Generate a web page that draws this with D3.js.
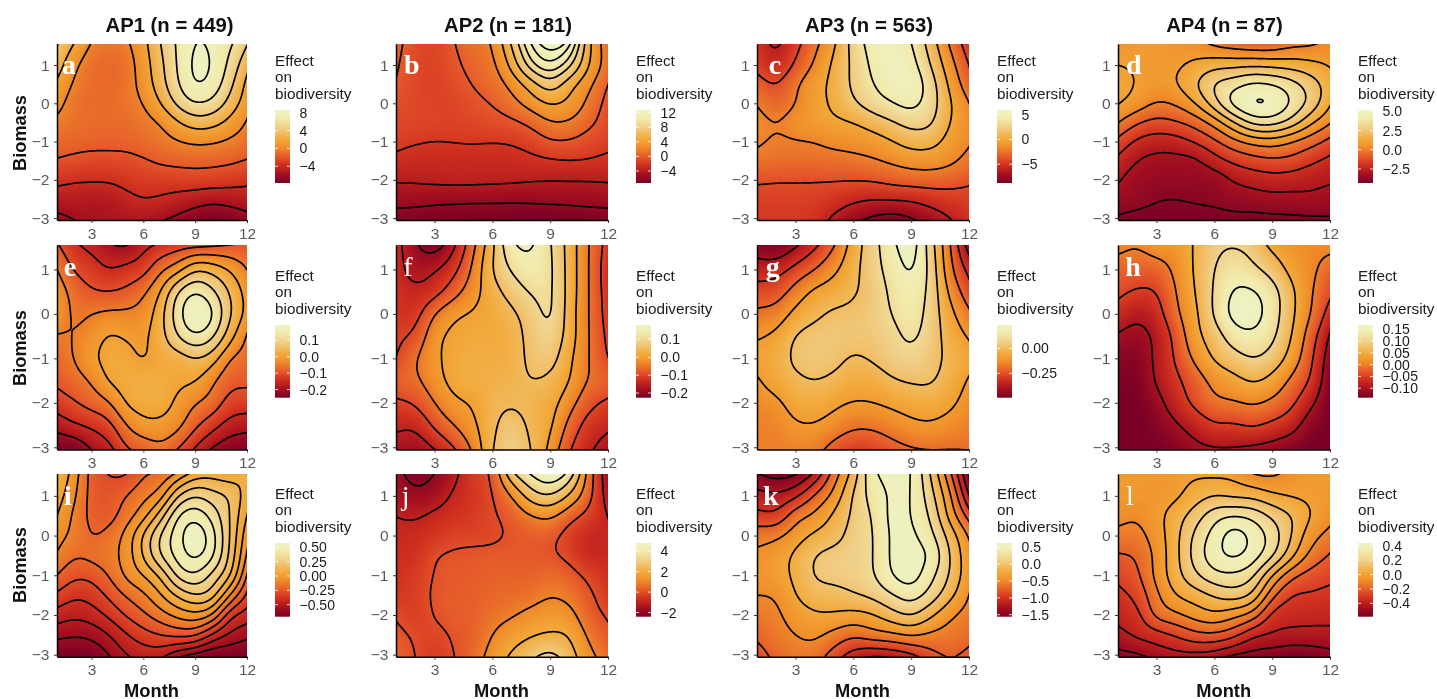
<!DOCTYPE html>
<html><head><meta charset="utf-8">
<script src="https://cdn.jsdelivr.net/npm/d3@7"></script>
<style>
html,body{margin:0;padding:0;background:#fff;width:1437px;height:699px;overflow:hidden}
#wrap{position:relative;width:1437px;height:699px}
canvas{position:absolute}
svg{position:absolute;left:0;top:0}
text{font-family:"Liberation Sans",Arial,sans-serif}
</style></head><body><div id="wrap"></div>
<script>
// Rows run biomass 1.5 -> -3 in steps of 0.5, columns are months 1..12.
const months=[1,2,3,4,5,6,7,8,9,10,11,12];
const biomass=[1.5,1,.5,0,-.5,-1,-1.5,-2,-2.5,-3];
const titles=["AP1 (n = 449)","AP2 (n = 181)","AP3 (n = 563)","AP4 (n = 87)"];
const letters=["a","b","c","d","e","f","g","h","i","j","k","l"];
const gridA=[
[4,1.8,-.3,-.8,-.4,1.3,4,6.3,8.2,7.7,6.3,4],
[3,.4,-1,-1.2,-.9,1,3.5,6.2,8.5,7.9,5.5,2.6],
[1.6,-.3,-1.1,-1.2,-.8,.7,3.2,5.8,8.1,7.3,4.6,1.5],
[.6,-.8,-1.1,-1.1,-.7,0,2,4.5,6,5.5,3.3,.9],
[-.4,-.9,-1.1,-1.15,-1.1,-.6,.1,1.8,3,2.7,1.4,-.2],
[-1.2,-1.4,-1.5,-1.5,-1.5,-1.1,-.7,-.1,.3,.2,-.3,-.9],
[-2.1,-2.4,-2.6,-2.6,-2.5,-2.2,-1.7,-1.5,-1.4,-1.5,-1.7,-2.1],
[-3.5,-3.8,-3.8,-3.8,-3.4,-3.1,-3.1,-3,-2.9,-3,-3.2,-3.5],
[-5,-5,-5.2,-5.1,-4.5,-4,-4.2,-4.6,-5,-5.4,-5.2,-5],
[-6.4,-5.9,-5.6,-5.5,-5.4,-5.2,-5.7,-6.3,-7.2,-7.7,-7.2,-6.5]];
const gridB=[
[.5,-.9,-1.2,-.1,1,2,6,11,12.7,11.4,4.3,.9],
[.2,-1,-1.3,-.4,.6,1.5,4.6,9,10.8,8.5,4,1],
[-.1,-1,-1.3,-.8,.1,.9,2.6,5,7.2,4.8,2.5,0],
[-.7,-1,-1.3,-1.2,-.5,.1,1.3,2.9,4.2,3.5,1.5,-.7],
[-1.1,-1.1,-1.2,-1.3,-1.1,-.8,-.4,.5,1.9,1.8,.5,-1],
[-1.5,-1.8,-2,-1.9,-1.8,-1.9,-1.8,-1.2,-.2,-.2,-.9,-1.4],
[-2.5,-2.9,-3,-3,-3,-3,-2.8,-2.5,-2.2,-2,-2.1,-2.5],
[-3.8,-3.7,-3.5,-3.4,-3.4,-3.5,-3.6,-3.8,-3.9,-3.9,-3.9,-3.8],
[-5.2,-5.3,-5.5,-5.6,-5.66,-5.66,-5.67,-5.6,-5.5,-5.4,-5.3,-5.2],
[-6.9,-6.9,-7,-7,-7.1,-7.1,-7.2,-7.3,-7.3,-7.2,-7,-6.9]];
const gridC=[
[-5,-6.3,-4.5,-2.4,-.2,2.7,4.8,5.5,4.2,1.2,-2.1,-5],
[-4.6,-5.5,-3.7,-1.7,.4,2.4,4.4,5.6,4.8,2,-1.2,-4],
[-3.2,-4.1,-2.3,-.7,.5,2.4,3.9,5.2,5.4,3,-.4,-3.2],
[-2.1,-3,-2,-.6,.3,1.7,3,3.9,4.6,3,.2,-1.9],
[-1.5,-2,-1.3,-.7,-.3,0,.9,1.8,2.7,2.3,0,-1.6],
[-1.8,-2.2,-2.1,-2,-1.5,-1.3,-.9,-.1,.8,.7,-.7,-1.8],
[-2.5,-2.7,-2.8,-2.7,-2.7,-2.5,-2.2,-1.7,-1.2,-1.1,-1.6,-2.6],
[-3.8,-3.9,-3.9,-3.9,-3.9,-3.9,-3.8,-3.4,-3.1,-3,-3.2,-3.7],
[-4.5,-4.5,-4.5,-4.6,-5,-5.6,-5.9,-5.8,-5.7,-5.2,-4.8,-4.6],
[-4.8,-4.8,-4.8,-5,-6.3,-7.4,-8.2,-8.7,-8,-7,-6,-5]];
const gridD=[
[.6,.8,.8,.7,.5,0,-.3,-.5,-.5,-.1,0,.4],
[1,.9,.8,.85,1.2,1.6,1.7,1.8,1.7,1.55,1.3,.9],
[1.3,.95,.8,.95,1.9,3.1,3.6,4.2,4,3.4,2.5,1.5],
[1.1,.6,-.1,.15,1,2.6,4.4,5.15,5.05,3.9,2.7,1.15],
[.05,-.9,-1.3,-1.1,-.6,.4,1.9,3.3,3.4,2.6,1.2,.1],
[-1.3,-2.2,-2.5,-2.4,-1.9,-1.2,-.3,.3,.5,0,-.6,-1.3],
[-2.25,-3,-3.3,-3.3,-3.2,-2.4,-1.8,-1.4,-1.2,-1.3,-1.8,-2.25],
[-2.9,-3.5,-3.6,-3.6,-3.6,-3.6,-2.9,-2.6,-2.4,-2.5,-2.7,-2.85],
[-3.45,-3.65,-3.95,-4,-3.9,-3.8,-3.6,-3.45,-3.3,-3.3,-3.2,-3.45],
[-4.1,-4.3,-4.3,-4.3,-4.3,-4.3,-4.2,-4.25,-4.2,-4.15,-4.1,-4.05]];
const gridE=[
[-.09,-.14,-.16,-.19,-.2,-.16,-.135,-.115,-.1,-.095,-.09,-.09],
[-.05,-.105,-.125,-.15,-.135,-.12,-.06,-.02,.045,.03,-.005,-.05],
[-.02,-.07,-.095,-.1,-.09,-.06,0,.1,.15,.11,.045,-.02],
[-.015,-.06,-.05,-.04,-.04,-.03,.03,.13,.2,.155,.055,-.015],
[-.055,-.05,-.025,.005,-.005,-.01,.03,.1,.145,.11,.02,-.055],
[-.07,-.05,-.01,.015,.015,-.005,.02,.025,.05,.025,-.05,-.07],
[-.09,-.07,-.045,.005,.02,.025,.025,.01,.005,-.04,-.085,-.09],
[-.125,-.105,-.08,-.055,.005,.02,.02,-.01,-.047,-.07,-.12,-.125],
[-.18,-.155,-.14,-.115,-.05,-.015,-.012,-.035,-.09,-.13,-.17,-.18],
[-.24,-.24,-.19,-.165,-.1,-.08,-.06,-.095,-.15,-.2,-.23,-.24]];
const gridF=[
[-.13,-.19,-.22,-.155,-.06,.04,.14,.155,.105,.03,-.05,-.12],
[-.13,-.17,-.155,-.115,-.04,.05,.105,.135,.11,.03,-.05,-.13],
[-.125,-.14,-.12,-.07,-.02,.03,.07,.105,.11,.03,-.05,-.125],
[-.12,-.12,-.05,-.01,.005,.02,.04,.075,.11,.025,-.05,-.12],
[-.11,-.09,-.015,.01,.02,.02,.03,.065,.09,.025,-.05,-.11],
[-.1,-.055,-.01,.015,.025,.025,.03,.06,.07,.01,-.05,-.1],
[-.07,-.06,-.02,.015,.025,.03,.035,.05,.04,0,-.055,-.07],
[-.11,-.095,-.05,-.01,.005,.035,.045,.035,.02,-.03,-.085,-.11],
[-.14,-.14,-.09,-.05,-.01,.04,.07,.04,.01,-.065,-.12,-.14],
[-.17,-.18,-.145,-.1,-.04,.05,.08,.05,-.01,-.095,-.14,-.17]];
const gridG=[
[-.45,-.48,-.4,-.31,-.2,-.05,.06,.17,.25,.05,-.19,-.44],
[-.35,-.34,-.27,-.2,-.12,-.03,.06,.14,.215,.07,-.17,-.33],
[-.26,-.25,-.16,-.08,-.05,-.01,.04,.12,.17,.07,-.12,-.26],
[-.18,-.16,-.07,-.02,.015,.02,.05,.1,.15,.06,-.07,-.18],
[-.11,-.08,.005,.03,.04,.03,.04,.07,.12,.05,-.04,-.11],
[-.07,-.05,.02,.04,.025,-.01,.01,.05,.07,.03,-.02,-.07],
[-.11,-.06,-.02,0,-.02,-.05,-.05,-.01,.01,.01,-.04,-.11],
[-.14,-.12,-.06,-.05,-.08,-.105,-.1,-.08,-.06,-.05,-.08,-.14],
[-.16,-.15,-.11,-.105,-.14,-.18,-.18,-.15,-.12,-.11,-.135,-.16],
[-.16,-.16,-.15,-.16,-.23,-.28,-.27,-.23,-.2,-.19,-.195,-.195]];
const gridH=[
[.01,0,.02,.02,.055,.09,.1,.085,.04,.02,.01,.01],
[-.02,-.025,-.02,.01,.055,.1,.125,.11,.08,.035,.01,-.02],
[-.04,-.055,-.05,0,.05,.105,.155,.155,.12,.06,.005,-.04],
[-.07,-.09,-.07,-.01,.04,.105,.165,.17,.125,.06,0,-.07],
[-.105,-.115,-.09,-.035,.035,.075,.125,.14,.11,.05,-.025,-.105],
[-.125,-.13,-.09,-.045,.01,.055,.08,.1,.08,.03,-.04,-.125],
[-.135,-.135,-.095,-.06,-.025,.015,.035,.055,.035,-.01,-.055,-.135],
[-.14,-.14,-.115,-.075,-.04,-.01,-.005,.005,-.01,-.04,-.09,-.14],
[-.14,-.14,-.13,-.105,-.08,-.055,-.055,-.045,-.06,-.08,-.125,-.14],
[-.14,-.14,-.14,-.13,-.11,-.1,-.1,-.105,-.115,-.13,-.14,-.14]];
const gridI=[
[.1,-.05,-.24,-.3,-.3,-.2,-.17,-.05,.07,.08,.05,.1],
[.05,-.08,-.24,-.26,-.2,-.13,-.05,.2,.3,.24,.19,.05],
[0,-.12,-.23,-.24,-.15,-.04,.15,.4,.47,.36,.2,0],
[-.06,-.13,-.205,-.17,-.07,.11,.31,.46,.58,.44,.2,-.06],
[-.11,-.19,-.17,-.14,-.06,.11,.3,.44,.53,.42,.18,-.11],
[-.2,-.28,-.27,-.195,-.08,0,.12,.33,.39,.27,.12,-.2],
[-.32,-.38,-.36,-.28,-.19,-.12,-.01,.12,.2,.15,-.1,-.32],
[-.445,-.48,-.45,-.38,-.29,-.22,-.14,-.07,-.03,-.1,-.37,-.445],
[-.57,-.585,-.57,-.5,-.41,-.34,-.3,-.27,-.28,-.42,-.52,-.57],
[-.7,-.72,-.69,-.6,-.5,-.46,-.46,-.56,-.62,-.68,-.68,-.7]];
const gridJ=[
[-1.6,-2.35,-1.95,-1.2,-.35,.05,2.6,3.9,4.7,3.5,.5,-1.6],
[-1.4,-1.75,-1.5,-.85,-.5,-.05,1,2.5,2.95,1.85,.3,-1.4],
[-1,-1.1,-.8,-.6,-.4,-.1,.3,.95,1.2,.35,-.3,-1],
[-.8,-.75,-.5,-.25,-.2,-.15,.1,.25,.25,-.35,-.8,-.9],
[-.7,-.6,-.05,.1,.15,.2,.25,.2,.1,-.2,-.8,-.8],
[-.6,-.4,.05,.2,.25,.35,.35,.35,.55,.3,-.2,-.6],
[-.45,-.3,.1,.25,.3,.45,.55,.65,.95,.75,.15,-.4],
[-.1,-.35,.05,.25,.35,.65,.9,1.25,1.5,1.3,.35,-.1],
[.2,-.1,-.2,.1,.35,1,1.55,1.9,2.1,1.95,.8,.2],
[.4,0,-.4,0,.5,1.35,2.1,2.7,3.2,2.4,1.25,.5]];
const gridK=[
[-1.45,-1.56,-1.48,-1.15,-.6,-.13,.45,.56,.52,0,-.65,-1.5],
[-1.15,-1.2,-1.05,-.72,-.42,.03,.35,.54,.51,.1,-.44,-1.25],
[-.93,-.95,-.6,-.45,-.2,.05,.27,.57,.5,.22,-.33,-.85],
[-.6,-.55,-.38,-.2,-.1,.1,.23,.55,.55,.33,-.1,-.52],
[-.45,-.38,-.2,0,.08,.12,.23,.55,.6,.47,0,-.43],
[-.42,-.35,-.2,.02,.07,.1,.22,.5,.62,.33,-.02,-.42],
[-.5,-.48,-.25,-.12,-.09,-.02,.06,.23,.36,.15,-.17,-.5],
[-.6,-.55,-.38,-.28,-.28,-.33,-.27,-.1,.02,-.2,-.45,-.6],
[-.7,-.6,-.5,-.45,-.58,-.7,-.6,-.55,-.47,-.55,-.6,-.68],
[-.85,-.68,-.6,-.62,-.85,-1.1,-1.2,-1.15,-1.03,-.82,-.72,-.8]];
const gridL=[
[-.03,-.03,-.04,-.03,-.01,-.01,-.02,-.085,-.105,-.06,-.03,-.03],
[-.04,-.04,-.04,-.02,.05,.1,.08,.07,.02,-.01,-.02,-.04],
[-.07,-.09,-.03,.05,.15,.26,.3,.27,.18,.1,0,-.07],
[-.13,-.13,-.05,.07,.22,.34,.45,.37,.26,.1,-.06,-.13],
[-.21,-.19,-.07,.07,.24,.36,.42,.35,.22,.03,-.13,-.21],
[-.27,-.22,-.07,.06,.18,.27,.28,.22,0,-.17,-.24,-.27],
[-.33,-.27,-.12,0,.05,.11,.15,.08,-.17,-.3,-.31,-.33],
[-.37,-.33,-.17,-.12,-.06,-.02,-.07,-.14,-.33,-.36,-.37,-.37],
[-.43,-.38,-.34,-.29,-.23,-.22,-.27,-.38,-.41,-.43,-.43,-.43],
[-.53,-.51,-.46,-.43,-.42,-.44,-.5,-.53,-.55,-.57,-.56,-.53]];
const grids=[gridA,gridB,gridC,gridD,gridE,gridF,gridG,gridH,gridI,gridJ,gridK,gridL];
const levelsA=[-6,-4,-2,0,2,4,6,8];
const levelsB=[-6,-4,-2,0,2,4,6,8,9.5,11,12.2];
const levelsC=[-8,-6,-4,-2,0,2,4];
const levelsD=[-4,-3,-2,-1,0,1,2,3,4,5];
const levelsE=[-.2,-.15,-.1,-.05,0,.05,.1,.15];
const levelsF=[-.2,-.15,-.1,-.05,0,.05,.1,.15];
const levelsG=[-.4,-.3,-.2,-.1,0,.1,.2];
const levelsH=[-.1,-.05,0,.05,.1,.15];
const levelsI=[-.6,-.5,-.4,-.3,-.2,-.1,0,.1,.2,.3,.4,.5];
const levelsJ=[-2,-1,0,1,2,3,4];
const levelsK=[-1.5,-1.25,-1,-.75,-.5,-.25,0,.25,.5];
const levelsL=[-.5,-.4,-.3,-.2,-.1,0,.1,.2,.3,.4];
const levels=[levelsA,levelsB,levelsC,levelsD,levelsE,levelsF,levelsG,levelsH,levelsI,levelsJ,levelsK,levelsL];
const ranges=[[-7.75,8.6],[-7.3,12.7],[-8.8,5.95],[-4.33,5.17],[-.25,.194],[-.226,.18],[-.493,.233],[-.14,.168],[-.71,.575],[-2.4,4.8],[-1.56,.63],[-.585,.437]];
const legendTicks=[[8,4,0,-4],[12,8,4,0,-4],[5,0,-5],[5,2.5,0,-2.5],[.1,0,-.1,-.2],[.1,0,-.1,-.2],[0,-.25],[.15,.1,.05,0,-.05,-.1],[.5,.25,0,-.25,-.5],[4,2,0,-2],[.5,0,-.5,-1,-1.5],[.4,.2,0,-.2,-.4]];
const tickDigits=[0,0,0,1,1,1,2,2,2,0,1,1];
const monthTicks=[3,6,9,12];
const biomassTicks=[1,0,-1,-2,-3];

// layout
const colL=[57,396,757,1118],colR=[247,608,969,1330];
const rowT=[44,245,474],rowB=[220,449.5,656.7];
const legX=[275,636,997,1358],legT=[110,325,543],legB=[183,397.7,616.7];
const titleX=[169.5,508,869,1224.5];
const monthX=[151.5,501.5,862.5,1223.7];
const bioY=[133,348,565];
const letterX=[69,411.7,775,1133.7,70,408,772.7,1133,68,405.7,770.7,1130];
const letterY=[74,275.5,505];
const lightLetters=new Set(["f","j","l"]);
const legTitleY=[66,280.7,499];

const stops=[0,.12,.25,.35,.5,.6,.75,.88,1];
const stopCols=["#7a0026","#a5101f","#d0301f","#e4552a","#f0902a","#f2a93a","#f0cc82","#f2eaab","#edf3c4"];
const ramp=d3.scaleLinear().domain(stops).range(stopCols).interpolate(d3.interpolateRgb).clamp(true);

function cell(g,r,c){
  const nr=g.length,nc=g[0].length;
  if(r<0) return 2*cell(g,0,c)-cell(g,-r,c);
  if(r>=nr) return 2*cell(g,nr-1,c)-cell(g,2*nr-2-r,c);
  if(c<0) return 2*g[r][0]-g[r][-c];
  if(c>=nc) return 2*g[r][nc-1]-g[r][2*nc-2-c];
  return g[r][c];
}
function cr(a,b,c,d,t){return b+.5*t*(c-a+t*(2*a-5*b+4*c-d+t*(3*(b-c)+d-a)));}
function sample0(g,month,bio){
  const u=month-months[0], v=(biomass[0]-bio)/(biomass[0]-biomass[1]);
  const i=Math.max(0,Math.min(months.length-2,Math.floor(u))),j=Math.max(0,Math.min(biomass.length-2,Math.floor(v)));
  const t=u-i,s=v-j,col=[];
  for(let q=-1;q<3;q++) col.push(cr(cell(g,j+q,i-1),cell(g,j+q,i),cell(g,j+q,i+1),cell(g,j+q,i+2),t));
  return cr(col[0],col[1],col[2],col[3],s);
}
// outside the grid the surface carries on along its edge slope
function sample(g,month,bio){
  const m=Math.max(1,Math.min(12,month)),b=Math.max(-3,Math.min(1.5,bio));
  let v=sample0(g,m,b);
  if(m!==month){const h=m<=1?.3:-.3;v+=(sample0(g,m+h,b)-v)/h*(month-m);}
  if(b!==bio){const h=b<=-3?.15:-.15;v+=(sample0(g,m,b+h)-sample0(g,m,b))/h*(bio-b);}
  return v;
}

const wrap=d3.select("#wrap");
const svg=wrap.append("svg").attr("width",1437).attr("height",699).style("z-index",2);
const defs=svg.append("defs");

grids.forEach((g,k)=>{
  const C=k%4,R=Math.floor(k/4);
  const L=colL[C],Rt=colR[C],T=rowT[R],B=rowB[R];
  const x=d3.scaleLinear().domain([1,12]).range([L,Rt]);
  const y=d3.scaleLinear().domain([-3.05,1.55]).range([B,T]);
  const [lo,hi]=ranges[k];
  const frac=d3.scaleLinear().domain([lo,hi]).range([0,1]).clamp(true);
  const colour=v=>ramp(frac(v));
  const W=Math.round(Rt-L),H=Math.round(B-T);
  // smooth surface on a fine mesh
  const res=2,pad=44,nx=W*res+2*pad,ny=H*res+2*pad,vals=new Float64Array(nx*ny);
  const sx=(Rt-L)/(W*res),sy=(B-T)/(H*res);
  for(let j=0;j<ny;j++)for(let i=0;i<nx;i++){
    vals[j*nx+i]=sample(g,x.invert(L+(i+.5-pad)*sx),y.invert(T+(j+.5-pad)*sy));
  }
  d3.blur2({data:vals,width:nx,height:ny},12);
  // heat raster
  const cv=wrap.append("canvas").attr("width",W).attr("height",H).style("left",L+"px").style("top",T+"px").style("z-index",1);
  const ctx=cv.node().getContext("2d"),img=ctx.createImageData(W,H);
  for(let py=0;py<H;py++)for(let px=0;px<W;px++){
    const c=d3.rgb(colour(vals[(pad+py*res)*nx+pad+px*res]));
    const o=(py*W+px)*4;img.data[o]=c.r;img.data[o+1]=c.g;img.data[o+2]=c.b;img.data[o+3]=255;
  }
  ctx.putImageData(img,0,0);
  // contours
  const cs=d3.contours().size([nx,ny]).thresholds(levels[k])(vals);
  const path=d3.geoPath(d3.geoTransform({point(px,py){this.stream.point(L+(px-pad)*sx,T+(py-pad)*sy);}}));
  const id="clip"+k;
  defs.append("clipPath").attr("id",id).append("rect").attr("x",L).attr("y",T).attr("width",Rt-L).attr("height",B-T);
  svg.append("g").attr("clip-path",`url(#${id})`).selectAll("path").data(cs).join("path")
    .attr("d",path).attr("fill","none").attr("stroke","#000").attr("stroke-width",1.7).attr("stroke-linejoin","round");
  // axes
  const styleAxis=a=>{a.selectAll("text").attr("fill","#5a5a5a").style("font-size","15.5px").style("font-family",'"Liberation Sans",Arial,sans-serif');
    a.selectAll("line").attr("stroke","#333").attr("stroke-width",1);
    a.select(".domain").attr("stroke","#000").attr("stroke-width",1.5);};
  svg.append("g").attr("transform",`translate(0,${B})`).call(d3.axisBottom(x).tickValues(monthTicks).tickSize(3).tickPadding(4.5).tickSizeOuter(0)).call(styleAxis);
  svg.append("g").attr("transform",`translate(${L},0)`).call(d3.axisLeft(y).tickValues(biomassTicks).tickSize(3).tickPadding(4.5).tickSizeOuter(0).tickFormat(d3.format("d"))).call(styleAxis);
  // letter
  svg.append("text").text(letters[k]).attr("x",letterX[k]).attr("y",letterY[R]).attr("text-anchor","middle").attr("fill","#fff")
    .style("font-family",'"Liberation Serif",serif').style("font-size","28px").style("font-weight",lightLetters.has(letters[k])?"normal":"bold");
  // legend
  const lx=legX[C],lt=legT[R],lb=legB[R];
  const ly=d3.scaleLinear().domain([lo,hi]).range([lb,lt]);
  const gid="lg"+k,lg=defs.append("linearGradient").attr("id",gid).attr("x1",0).attr("x2",0).attr("y1",1).attr("y2",0);
  stops.forEach((s,i)=>lg.append("stop").attr("offset",s).attr("stop-color",stopCols[i]));
  svg.append("rect").attr("x",lx).attr("y",lt).attr("width",15).attr("height",lb-lt).attr("fill",`url(#${gid})`);
  const fmt=d3.format("."+tickDigits[k]+"f");
  legendTicks[k].forEach(v=>{
    const yy=ly(v);
    svg.append("line").attr("x1",lx).attr("x2",lx+3).attr("y1",yy).attr("y2",yy).attr("stroke","#fff").attr("stroke-opacity",.8);
    svg.append("line").attr("x1",lx+12).attr("x2",lx+15).attr("y1",yy).attr("y2",yy).attr("stroke","#fff").attr("stroke-opacity",.8);
    svg.append("text").text(fmt(v)).attr("x",lx+24.5).attr("y",yy).attr("dy",".36em").attr("fill","#1a1a1a").style("font-size","14px");
  });
  ["Effect","on","biodiversity"].forEach((t,i)=>{
    svg.append("text").text(t).attr("x",lx).attr("y",legTitleY[R]+i*16.4).attr("fill","#1a1a1a").style("font-size","15.3px");
  });
});
titles.forEach((t,c)=>svg.append("text").text(t).attr("x",titleX[c]).attr("y",31.5).attr("text-anchor","middle").attr("fill","#111").style("font-size","20.3px").style("font-weight","bold"));
monthX.forEach(v=>svg.append("text").text("Month").attr("x",v).attr("y",697).attr("text-anchor","middle").attr("fill","#111").style("font-size","18.3px").style("font-weight","bold"));
bioY.forEach(v=>svg.append("text").text("Biomass").attr("transform",`translate(26,${v}) rotate(-90)`).attr("text-anchor","middle").attr("fill","#111").style("font-size","18.2px").style("font-weight","bold"));
</script></body></html>
